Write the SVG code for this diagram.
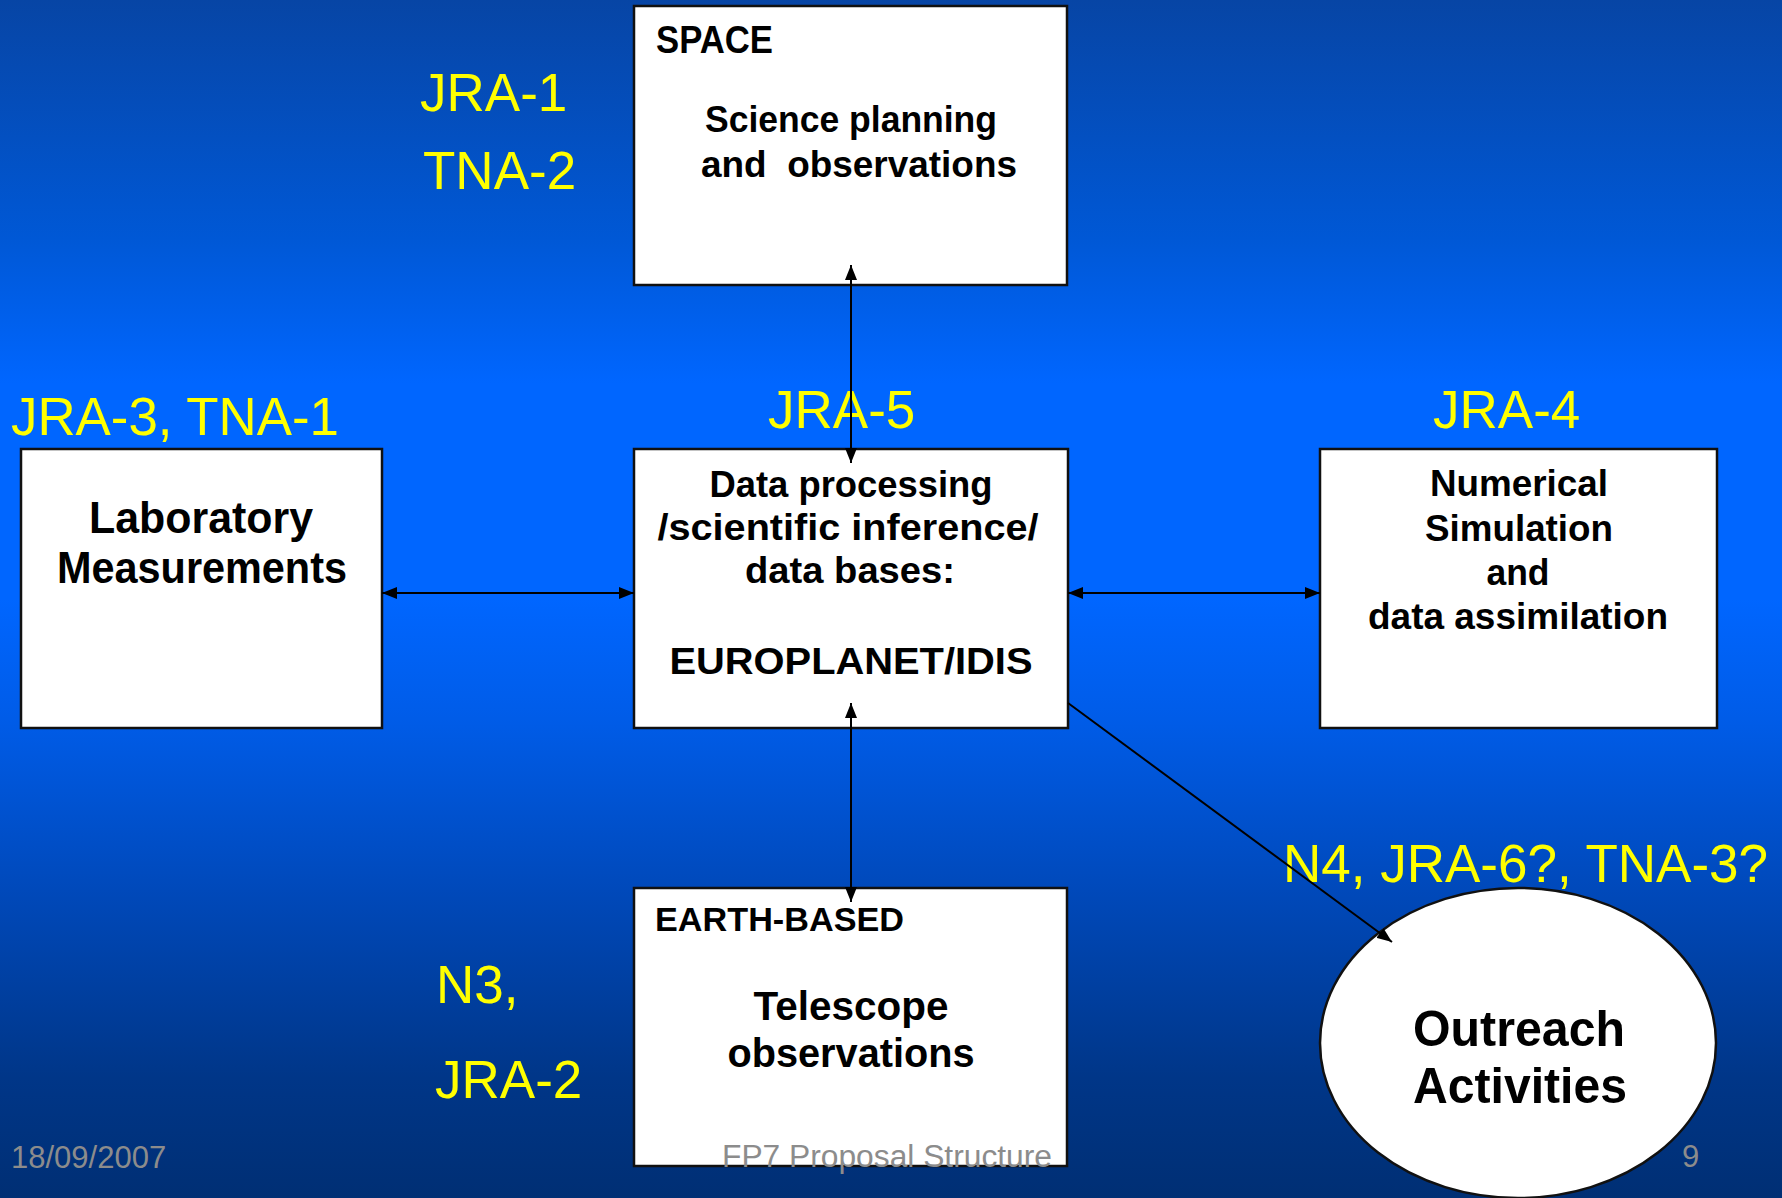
<svg xmlns="http://www.w3.org/2000/svg" width="1782" height="1198" viewBox="0 0 1782 1198">
<defs>
<linearGradient id="bg" x1="0" y1="0" x2="0" y2="1">
<stop offset="0" stop-color="#0745a5"/>
<stop offset="0.2" stop-color="#0058d6"/>
<stop offset="0.32" stop-color="#0066ff"/>
<stop offset="0.5" stop-color="#0066ff"/>
<stop offset="0.6" stop-color="#005ce8"/>
<stop offset="0.75" stop-color="#0048b8"/>
<stop offset="0.9" stop-color="#003688"/>
<stop offset="1" stop-color="#002f74"/>
</linearGradient>
<marker id="ah" viewBox="0 0 15 12" refX="15" refY="6" markerWidth="15" markerHeight="12" markerUnits="userSpaceOnUse" orient="auto-start-reverse">
<path d="M0,0 L15,6 L0,12 z" fill="#000"/>
</marker>
<style>
.box{fill:#fff;stroke:#111;stroke-width:2.5}
.comic{font-family:"Comic Sans MS","Liberation Sans",sans-serif;font-weight:bold;fill:#000;text-anchor:middle}
.arialb{font-family:"Liberation Sans",Arial,sans-serif;font-weight:bold;fill:#000;text-anchor:middle}
.lab{font-family:"Liberation Sans",Arial,sans-serif;font-size:53px;fill:#ffff00}
.foot{font-family:"Liberation Sans",Arial,sans-serif;font-size:31px;fill:#8c8c8c}
.con{stroke:#000;stroke-width:2;fill:none}
</style>
</defs>
<rect x="0" y="0" width="1782" height="1198" fill="url(#bg)"/>

<g id="space">
<rect class="box" x="634" y="6" width="433" height="279"/>
<text class="comic" x="656" y="53" font-size="38" style="text-anchor:start" textLength="117" lengthAdjust="spacingAndGlyphs">SPACE</text>
<text class="comic" x="851" y="132" font-size="37" textLength="292" lengthAdjust="spacingAndGlyphs">Science planning</text>
<text class="comic" x="859" y="177" font-size="37" textLength="316" lengthAdjust="spacingAndGlyphs" style="white-space:pre">and  observations</text>
</g>

<g id="lab">
<rect class="box" x="21" y="449" width="361" height="279"/>
<text class="comic" x="201" y="533" font-size="44" textLength="224" lengthAdjust="spacingAndGlyphs">Laboratory</text>
<text class="comic" x="202" y="583" font-size="44" textLength="290" lengthAdjust="spacingAndGlyphs">Measurements</text>
</g>

<g id="data">
<rect class="box" x="634" y="449" width="434" height="279"/>
<text class="comic" x="851" y="497" font-size="37" textLength="283" lengthAdjust="spacingAndGlyphs">Data processing</text>
<text class="comic" x="848" y="540" font-size="37" textLength="381" lengthAdjust="spacingAndGlyphs">/scientific inference/</text>
<text class="comic" x="850" y="583" font-size="37" textLength="210" lengthAdjust="spacingAndGlyphs">data bases:</text>
<text class="comic" x="851" y="674" font-size="37" textLength="363" lengthAdjust="spacingAndGlyphs">EUROPLANET/IDIS</text>
</g>

<g id="numerical">
<rect class="box" x="1320" y="449" width="397" height="279"/>
<text class="arialb" x="1519" y="496" font-size="37" textLength="178" lengthAdjust="spacingAndGlyphs">Numerical</text>
<text class="arialb" x="1519" y="541" font-size="37" textLength="188" lengthAdjust="spacingAndGlyphs">Simulation</text>
<text class="arialb" x="1518" y="585" font-size="37" textLength="63" lengthAdjust="spacingAndGlyphs">and</text>
<text class="arialb" x="1518" y="629" font-size="37" textLength="300" lengthAdjust="spacingAndGlyphs">data assimilation</text>
</g>

<g id="earth">
<rect class="box" x="634" y="888" width="433" height="278"/>
<text class="arialb" x="655" y="931" font-size="34" style="text-anchor:start" textLength="249" lengthAdjust="spacingAndGlyphs">EARTH-BASED</text>
<text class="arialb" x="851" y="1020" font-size="40" textLength="195" lengthAdjust="spacingAndGlyphs">Telescope</text>
<text class="arialb" x="851" y="1067" font-size="40" textLength="247" lengthAdjust="spacingAndGlyphs">observations</text>
</g>

<g id="outreach">
<ellipse cx="1518" cy="1043" rx="198" ry="155" fill="#fff" stroke="#111" stroke-width="2.5"/>
<text class="comic" x="1519" y="1046" font-size="50" textLength="212" lengthAdjust="spacingAndGlyphs">Outreach</text>
<text class="comic" x="1520" y="1103" font-size="50" textLength="214" lengthAdjust="spacingAndGlyphs">Activities</text>
</g>

<g id="labels">
<text class="lab" x="420" y="111">JRA-1</text>
<text class="lab" x="423" y="189">TNA-2</text>
<text class="lab" x="11" y="435" textLength="328" lengthAdjust="spacingAndGlyphs">JRA-3, TNA-1</text>
<text class="lab" x="768" y="428">JRA-5</text>
<text class="lab" x="1433" y="428">JRA-4</text>
<text class="lab" x="436" y="1003">N3,</text>
<text class="lab" x="435" y="1098">JRA-2</text>
<text class="lab" x="1283" y="882" textLength="485" lengthAdjust="spacingAndGlyphs">N4, JRA-6?, TNA-3?</text>
</g>

<g id="connectors">
<line class="con" x1="851" y1="463" x2="851" y2="265" marker-start="url(#ah)" marker-end="url(#ah)"/>
<line class="con" x1="382" y1="593" x2="634" y2="593" marker-start="url(#ah)" marker-end="url(#ah)"/>
<line class="con" x1="1068" y1="593" x2="1320" y2="593" marker-start="url(#ah)" marker-end="url(#ah)"/>
<line class="con" x1="851" y1="902" x2="851" y2="703" marker-start="url(#ah)" marker-end="url(#ah)"/>
<line class="con" x1="1068" y1="703" x2="1392" y2="942" marker-end="url(#ah)"/>
</g>

<g id="footer">
<text class="foot" x="11" y="1168">18/09/2007</text>
<text class="foot" x="722" y="1167" textLength="330" lengthAdjust="spacingAndGlyphs">FP7 Proposal Structure</text>
<text class="foot" x="1682" y="1167">9</text>
</g>
</svg>
